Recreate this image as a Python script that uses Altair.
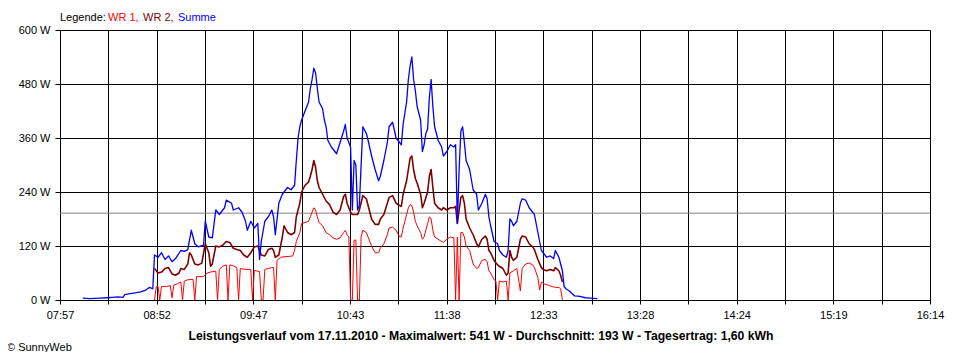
import altair as alt
import pandas as pd

# ---------------- data ----------------
SUMME_TIME = ["08:10","08:14","08:20","08:24","08:27","08:30","08:33","08:34","08:37","08:40","08:43","08:46","08:48","08:50",
              "08:51","08:53","08:55","08:57","08:59","09:01","09:03","09:06","09:08","09:10","09:12","09:14","09:16","09:19",
              "09:20","09:22","09:24","09:26","09:28","09:31","09:32","09:35","09:36","09:39","09:41","09:43","09:44","09:46",
              "09:48","09:50","09:51","09:52","09:54","09:56","09:58","09:59","10:00","10:02","10:04","10:06","10:07","10:09",
              "10:11","10:12","10:13","10:14","10:15","10:17","10:19","10:20","10:21","10:22","10:23","10:24","10:25","10:27",
              "10:28","10:29","10:30","10:32","10:34","10:35","10:37","10:39","10:40","10:41","10:43","10:44","10:45","10:46",
              "10:47","10:48","10:50","10:52","10:53","10:55","10:57","10:59","11:00","11:02","11:04","11:05","11:07","11:09",
              "11:11","11:12","11:13","11:15","11:16","11:17","11:18","11:19","11:20","11:21","11:23","11:24","11:25","11:26",
              "11:27","11:28","11:29","11:30","11:31","11:33","11:35","11:36","11:38","11:40","11:42","11:43","11:44","11:45",
              "11:46","11:47","11:48","11:49","11:51","11:53","11:55","11:56","11:58","12:00","12:01","12:02","12:03","12:05",
              "12:07","12:08","12:10","12:12","12:13","12:14","12:15","12:16","12:18","12:20","12:21","12:23","12:25","12:27",
              "12:28","12:30","12:32","12:33","12:35","12:37","12:39","12:40","12:42","12:44","12:45","12:46","12:48","12:51",
              "12:54","12:57","13:00","13:04"]
SUMME_W = [4,3,4,5,6,7,6,12,14,16,18,22,28,25,
           100,95,105,90,98,85,92,110,108,112,155,125,118,122,
           175,140,138,200,190,205,222,215,200,205,195,175,155,175,
           160,170,90,130,175,185,200,185,145,215,235,245,250,245,
           255,310,360,385,400,420,440,470,490,515,505,470,440,425,
           400,385,355,340,330,325,350,375,390,360,340,200,310,300,
           200,210,385,370,355,320,290,265,275,310,350,385,395,360,
           350,345,390,440,490,520,540,490,465,430,400,330,345,370,
           380,450,490,430,385,355,340,320,330,345,340,345,170,290,
           375,385,350,310,290,245,235,200,215,235,225,185,165,130,
           125,110,100,95,110,180,175,165,175,215,225,222,205,195,
           190,150,110,105,95,98,92,110,95,65,30,25,20,9,
           8,5,4,3]

WR1_TIME = ["08:51","08:52","08:53","08:54","08:55","08:58","09:00","09:01","09:02","09:04","09:06","09:07","09:08","09:10",
            "09:13","09:14","09:15","09:17","09:19","09:21","09:24","09:26","09:27","09:28","09:30","09:32","09:33","09:34",
            "09:36","09:38","09:39","09:40","09:43","09:46","09:47","09:48","09:50","09:51","09:52","09:53","09:54","09:56",
            "09:58","09:59","10:00","10:01","10:03","10:05","10:08","10:10","10:11","10:12","10:13","10:14","10:15","10:17",
            "10:19","10:20","10:21","10:22","10:23","10:24","10:25","10:27","10:29","10:31","10:33","10:35","10:37","10:39",
            "10:40","10:41","10:42","10:43","10:44","10:45","10:46","10:47","10:48","10:49","10:50","10:52","10:53","10:55",
            "10:57","10:59","11:00","11:02","11:04","11:05","11:07","11:09","11:11","11:12","11:13","11:15","11:16","11:17",
            "11:18","11:19","11:20","11:21","11:23","11:24","11:25","11:27","11:28","11:29","11:30","11:31","11:33","11:35",
            "11:36","11:38","11:40","11:42","11:43","11:44","11:45","11:46","11:47","11:48","11:49","11:51","11:53","11:55",
            "11:56","11:58","12:00","12:01","12:02","12:03","12:05","12:06","12:07","12:08","12:10","12:12","12:13","12:14",
            "12:16","12:18","12:20","12:21","12:23","12:25","12:27","12:28","12:30","12:31","12:32","12:34","12:36","12:38",
            "12:40","12:42","12:43","12:44"]
WR1_W = [0,30,30,0,30,30,32,5,33,36,40,0,42,45,
         46,0,52,52,52,60,63,64,0,68,75,78,0,78,
         76,72,0,70,68,68,0,66,64,63,0,0,68,70,
         72,72,0,88,95,96,97,98,110,130,140,150,170,172,
         175,185,195,205,200,185,172,165,150,145,138,135,138,150,
         155,145,140,0,0,133,133,0,0,140,155,150,140,120,
         105,105,115,125,145,160,162,155,140,140,160,190,205,212,
         210,195,175,165,150,135,140,170,185,180,155,140,135,130,
         128,135,140,138,0,140,0,150,150,140,120,110,80,70,
         72,88,90,85,65,60,45,42,0,42,40,42,0,60,
         65,70,20,70,80,82,78,72,50,22,40,35,33,30,
         28,28,25,0]

WR2_TIME = ["08:51","08:52","08:53","08:55","08:57","08:59","09:01","09:03","09:05","09:06","09:08","09:10","09:11","09:12",
            "09:14","09:16","09:18","09:20","09:22","09:23","09:24","09:26","09:28","09:30","09:32","09:34","09:36","09:38",
            "09:40","09:42","09:44","09:46","09:48","09:50","09:52","09:54","09:56","09:58","09:59","10:00","10:02","10:04",
            "10:05","10:07","10:09","10:11","10:12","10:13","10:14","10:15","10:17","10:19","10:20","10:21","10:22","10:23",
            "10:24","10:25","10:27","10:29","10:31","10:33","10:35","10:37","10:39","10:40","10:41","10:43","10:44","10:45",
            "10:47","10:48","10:50","10:52","10:53","10:55","10:57","10:59","11:00","11:02","11:04","11:05","11:07","11:09",
            "11:11","11:12","11:13","11:15","11:16","11:17","11:18","11:19","11:20","11:21","11:23","11:24","11:25","11:27",
            "11:28","11:29","11:30","11:31","11:33","11:35","11:36","11:38","11:40","11:42","11:43","11:44","11:45","11:46",
            "11:47","11:48","11:49","11:51","11:53","11:55","11:56","11:58","12:00","12:01","12:02","12:03","12:05","12:07",
            "12:08","12:10","12:12","12:13","12:14","12:15","12:16","12:18","12:20","12:21","12:23","12:25","12:27","12:28",
            "12:30","12:32","12:33","12:35","12:37","12:39","12:40","12:42","12:43","12:44"]
WR2_W = [70,65,60,62,70,72,58,55,60,70,68,80,105,100,
         80,78,82,125,105,75,80,120,118,122,130,128,115,112,
         110,100,95,105,118,120,100,98,112,115,110,95,100,140,
         165,150,145,150,185,200,215,240,255,262,275,290,310,295,
         265,250,235,220,212,195,190,200,230,235,215,195,190,190,
         190,200,232,225,210,180,168,168,180,190,215,228,232,215,
         210,208,235,265,290,315,320,290,270,260,235,205,215,240,
         275,290,250,215,205,200,205,200,205,205,208,170,200,228,
         232,215,180,160,145,125,118,135,142,135,110,105,88,78,
         75,70,55,60,110,95,88,95,135,142,140,125,118,112,
         90,72,68,65,68,65,72,65,55,40]

X_TICK_LABELS = ["07:57", "08:52", "09:47", "10:43", "11:38", "12:33", "13:28", "14:24", "15:19", "16:14"]
Y_TICKS = [0, 120, 240, 360, 480, 600]
AVERAGE_W = 193

SERIES = ["WR 1", "WR 2", "Summe"]
COLORS = ["#ff0000", "#800000", "#0000ff"]
TITLE = "Leistungsverlauf vom 17.11.2010 - Maximalwert: 541 W - Durchschnitt: 193 W - Tagesertrag: 1,60 kWh"
CREDIT = "\u00a9 SunnyWeb"

FONT = "Liberation Sans"


def to_min(s):
    h, m = s.split(":")
    return int(h) * 60 + int(m)


t0 = to_min(X_TICK_LABELS[0])
t1 = to_min(X_TICK_LABELS[-1])
n_grid = 2 * (len(X_TICK_LABELS) - 1)
step = (t1 - t0) / n_grid
grid_vals = [t0 + k * step for k in range(n_grid + 1)]
grid_labels = [X_TICK_LABELS[k // 2] if k % 2 == 0 else "" for k in range(n_grid + 1)]
label_js = "[" + ",".join("'%s'" % s for s in grid_labels) + "]"
label_expr = f"{label_js}[round((datum.value - {t0}) / {step})]"

frames = []
for name, times, vals in [("WR 1", WR1_TIME, WR1_W), ("WR 2", WR2_TIME, WR2_W), ("Summe", SUMME_TIME, SUMME_W)]:
    frames.append(pd.DataFrame({"t": [to_min(s) for s in times], "w": vals, "series": name}))
df = pd.concat(frames, ignore_index=True)

W, H = 870, 270

x_scale = alt.Scale(domain=[t0, t1], nice=False, zero=False)
y_scale = alt.Scale(domain=[0, 600], nice=False)

x_axis = alt.Axis(values=grid_vals, labelExpr=label_expr, title=None, grid=True, gridColor="#000000",
                  gridOpacity=1, gridWidth=1, tickColor="#000000", tickSize=4, domainColor="#000000",
                  labelColor="#000000", labelFont=FONT, labelFontSize=11, labelPadding=5,
                  labelFlush=False, labelOverlap=False)
y_axis = alt.Axis(values=Y_TICKS, labelExpr="datum.value + ' W'", title=None, grid=True, gridColor="#000000",
                  gridOpacity=1, gridWidth=1, tickColor="#000000", tickSize=5, domainColor="#000000",
                  labelColor="#000000", labelFont=FONT, labelFontSize=11, labelPadding=5)

base = alt.Chart(df)

frame = alt.Chart(pd.DataFrame({"t": [t0], "w": [0]})).mark_point(opacity=0).encode(
    x=alt.X("t:Q", scale=x_scale, axis=x_axis),
    y=alt.Y("w:Q", scale=y_scale, axis=y_axis),
)

avg = alt.Chart(pd.DataFrame({"w": [AVERAGE_W]})).mark_rule(color="#808080", strokeWidth=1).encode(
    y=alt.Y("w:Q", scale=y_scale)
)

widths = {"WR 1": 1.0, "WR 2": 1.6, "Summe": 1.3}
lines = []
for name, col in zip(SERIES, COLORS):
    lines.append(
        base.transform_filter(alt.datum.series == name).mark_line(
            color=col, strokeWidth=widths[name], strokeJoin="round", clip=True
        ).encode(
            x=alt.X("t:Q", scale=x_scale),
            y=alt.Y("w:Q", scale=y_scale),
            order="t:Q",
        )
    )

legend_items = [("Legende:", "#000000", 0), ("WR 1,", COLORS[0], 48), ("WR 2,", COLORS[1], 83), ("Summe", COLORS[2], 118)]
texts = []
for txt, col, xo in legend_items:
    texts.append(
        alt.Chart(pd.DataFrame({"label": [txt]})).mark_text(
            align="left", baseline="alphabetic", font=FONT, fontSize=11, color=col
        ).encode(text="label:N", x=alt.value(xo), y=alt.value(-9))
    )

title_mark = alt.Chart(pd.DataFrame({"label": [TITLE]})).mark_text(
    align="center", baseline="alphabetic", font=FONT, fontSize=12.2, fontWeight="bold", color="#000000"
).encode(text="label:N", x=alt.value(421), y=alt.value(310))

credit_mark = alt.Chart(pd.DataFrame({"label": [CREDIT]})).mark_text(
    align="left", baseline="alphabetic", font=FONT, fontSize=11, color="#000000"
).encode(text="label:N", x=alt.value(-53), y=alt.value(321))

chart = alt.layer(frame, avg, *lines, *texts, title_mark, credit_mark).properties(
    width=W, height=H,
    autosize=alt.AutoSizeParams(type="none"),
    padding={"left": 52, "top": 22, "right": 22, "bottom": 52},
    background="#ffffff",
).configure_view(stroke=None)

chart.save("out.html", embed_options={"renderer": "svg", "actions": False})
